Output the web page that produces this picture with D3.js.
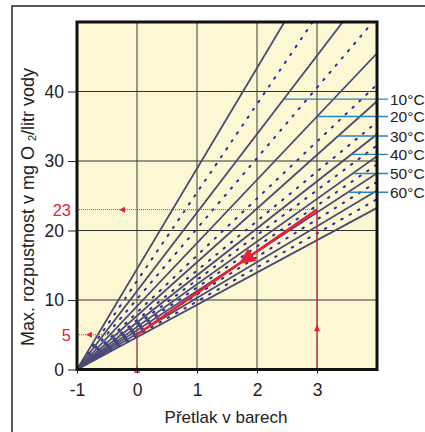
<!DOCTYPE html>
<html><head><meta charset="utf-8">
<script src="https://cdn.jsdelivr.net/npm/d3@7"></script>
<style>html,body{margin:0;padding:0;background:#fff;}svg{display:block;font-family:"Liberation Sans",Arial,sans-serif;}</style>
</head><body>
<script>
// solubility (mg O2 / l) at 0 bar overpressure -> line slope per bar
const solidTemps = [0, 10, 20, 30, 40, 50, 60, 70, 80];
const solidValues = [14.46, 11.29, 9.1, 7.72, 6.77, 6.14, 5.65, 5.15, 4.65];
const dottedTemps = [5, 15, 25, 35, 45, 55, 65, 75];
const dottedValues = [12.73, 10.14, 8.2, 7.12, 6.45, 5.9, 5.4, 4.9];
const labelTemps = ["10°C", "20°C", "30°C", "40°C", "50°C", "60°C"];
const labelLineValues = [11.29, 9.1, 7.72, 6.77, 6.14, 5.65];
const labelY = [38.9, 36.4, 33.6, 30.95, 28.2, 25.5];
const xTicks = [-1, 0, 1, 2, 3];
const yTicks = [0, 10, 20, 30, 40];
const exampleStart = [0, 5];
const exampleEnd = [3, 23];

const W = 425, H = 432;
const svg = d3.select("body").append("svg").attr("width", W).attr("height", H);
const x = d3.scaleLinear().domain([-1, 4]).range([77, 377]);
const y = d3.scaleLinear().domain([0, 50]).range([369.5, 22]);
const red = "#e8203a";

// outer frame
svg.append("path").attr("d", `M12,${H+2} L12,6 L${W+2},6`).attr("fill", "none").attr("stroke", "#222").attr("stroke-width", 1.5);

// plot background
svg.append("rect").attr("x", x(-1)).attr("y", y(50)).attr("width", x(4) - x(-1)).attr("height", y(0) - y(50)).attr("fill", "#fdf8d3");

svg.append("clipPath").attr("id", "clip").append("rect")
  .attr("x", x(-1)).attr("y", y(50)).attr("width", x(4) - x(-1)).attr("height", y(0) - y(50));

// grid
const grid = svg.append("g");
grid.selectAll(".vg").data(xTicks.slice(1)).join("line")
  .attr("x1", d => x(d)).attr("x2", d => x(d)).attr("y1", y(0)).attr("y2", y(50))
  .attr("stroke", "#5a5a50").attr("stroke-width", 1.2);
grid.selectAll(".hg").data(yTicks.slice(1)).join("line")
  .attr("x1", x(-1)).attr("x2", x(4)).attr("y1", d => y(d)).attr("y2", d => y(d))
  .attr("stroke", "#333").attr("stroke-width", 1.2);

// temperature lines
const lines = svg.append("g").attr("clip-path", "url(#clip)");
lines.selectAll(".dl").data(dottedValues).join("line")
  .attr("x1", x(-1)).attr("y1", y(0)).attr("x2", x(4)).attr("y2", d => y(5 * d))
  .attr("stroke", "#2a2aa0").attr("stroke-width", 2).attr("stroke-dasharray", "1.5,8").attr("stroke-linecap", "round");
lines.selectAll(".sl").data(solidValues).join("line")
  .attr("x1", x(-1)).attr("y1", y(0)).attr("x2", x(4)).attr("y2", d => y(5 * d))
  .attr("stroke", "#4a4a74").attr("stroke-width", 1.8);

// red annotation
const ann = svg.append("g");
ann.append("line").attr("x1", x(-1)).attr("x2", x(exampleEnd[0])).attr("y1", y(exampleEnd[1])).attr("y2", y(exampleEnd[1]))
  .attr("stroke", red).attr("stroke-width", 1).attr("stroke-dasharray", "1,1");
ann.append("line").attr("x1", x(-1)).attr("x2", x(exampleStart[0])).attr("y1", y(exampleStart[1])).attr("y2", y(exampleStart[1]))
  .attr("stroke", red).attr("stroke-width", 1).attr("stroke-dasharray", "1,1");
ann.append("line").attr("x1", x(exampleStart[0])).attr("x2", x(exampleStart[0])).attr("y1", y(0)).attr("y2", y(exampleStart[1]))
  .attr("stroke", red).attr("stroke-width", 1).attr("stroke-dasharray", "1.5,1");
ann.append("line").attr("x1", x(exampleEnd[0])).attr("x2", x(exampleEnd[0])).attr("y1", y(0)).attr("y2", y(exampleEnd[1]))
  .attr("stroke", red).attr("stroke-width", 1);
ann.append("line").attr("x1", x(exampleStart[0])).attr("y1", y(exampleStart[1])).attr("x2", x(exampleEnd[0])).attr("y2", y(exampleEnd[1]))
  .attr("stroke", red).attr("stroke-width", 2.6);

function arrow(px, py, angleDeg, len, wid) {
  const a = angleDeg * Math.PI / 180;
  const bx = px - len * Math.cos(a), by = py - len * Math.sin(a);
  const nx = -Math.sin(a) * wid / 2, ny = Math.cos(a) * wid / 2;
  ann.append("path").attr("d", `M${px},${py} L${bx + nx},${by + ny} L${bx - nx},${by - ny} Z`).attr("fill", red);
}
arrow(x(-0.3), y(23), 180, 6, 6);
arrow(x(-0.85), y(5), 180, 6, 6);
arrow(x(0), y(0.55), -90, 7, 6);
arrow(x(3), y(6.5), -90, 7, 6);
{
  const t = 1.7;
  const px = x(t), py = y(exampleStart[1] + (exampleEnd[1] - exampleStart[1]) * t / 3);
  const ang = Math.atan2(y(exampleStart[1]) - y(exampleEnd[1]), x(exampleStart[0]) - x(exampleEnd[0])) * 180 / Math.PI;
  arrow(px, py, ang, 16, 15);
}
ann.append("text").attr("x", 71).attr("y", y(23)).attr("dy", "0.36em").attr("text-anchor", "end")
  .attr("fill", red).attr("font-size", 16.5).text("23");
ann.append("text").attr("x", 71).attr("y", y(5)).attr("dy", "0.36em").attr("text-anchor", "end")
  .attr("fill", red).attr("font-size", 16.5).text("5");

// temperature labels
const lab = svg.append("g");
labelY.forEach((v, i) => {
  const x0 = x(v / labelLineValues[i] - 1);
  lab.append("line").attr("x1", x0).attr("x2", 388).attr("y1", y(v)).attr("y2", y(v))
    .attr("stroke", "#2585c5").attr("stroke-width", 1.4);
  lab.append("text").attr("x", 390).attr("y", y(v)).attr("dy", "0.36em").attr("font-size", 15.5)
    .attr("fill", "#222").text(labelTemps[i]);
});

// plot border
svg.append("rect").attr("x", x(-1)).attr("y", y(50)).attr("width", x(4) - x(-1)).attr("height", y(0) - y(50))
  .attr("fill", "none").attr("stroke", "#111").attr("stroke-width", 3);

// axes
const yAxis = svg.append("g").attr("transform", `translate(${x(-1)},0)`)
  .call(d3.axisLeft(y).tickValues(yTicks).tickSize(9).tickPadding(4));
yAxis.select(".domain").remove();
yAxis.selectAll("text").attr("font-size", 17.5).attr("fill", "#222").attr("font-family", "Liberation Sans, Arial, sans-serif");
yAxis.selectAll("line").attr("stroke", "#222");
const xAxis = svg.append("g").attr("transform", `translate(0,${y(0)})`)
  .call(d3.axisBottom(x).tickValues(xTicks).tickSize(4).tickPadding(10).tickFormat(d => String(d)));
xAxis.select(".domain").remove();
xAxis.selectAll("text").attr("font-size", 17.5).attr("fill", "#222").attr("font-family", "Liberation Sans, Arial, sans-serif");
xAxis.selectAll("line").attr("stroke", "#222");

// titles
svg.append("text").attr("x", 226).attr("y", 423).attr("text-anchor", "middle").attr("font-size", 17).attr("fill", "#222")
  .text("Přetlak v barech");
const yt = svg.append("text").attr("transform", "translate(34,207) rotate(-90)").attr("text-anchor", "middle")
  .attr("font-size", 18).attr("fill", "#222");
yt.append("tspan").text("Max. rozpustnost v mg O ");
yt.append("tspan").attr("font-size", 11).attr("dy", 2).text("2");
yt.append("tspan").attr("dy", -2).text("/litr vody");
</script>
</body></html>
